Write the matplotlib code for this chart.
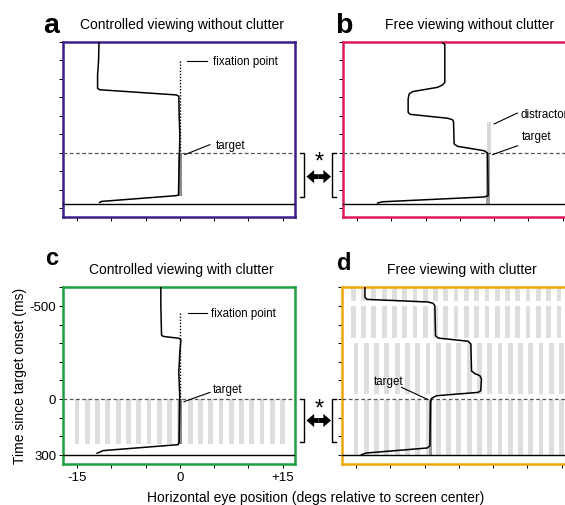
"""Eye traces in four viewing conditions (a-d), with clutter arrays."""
import matplotlib

matplotlib.use("Agg")
import matplotlib.pyplot as plt
from matplotlib.patches import FancyArrowPatch
from matplotlib.transforms import blended_transform_factory

plt.rcParams["font.family"] = ["Liberation Sans", "DejaVu Sans"]

W, H = 565, 506

# horizontal eye position (deg) vs time since target onset (ms)
trace_a_x = [-11.8, -11.85, -12.0, -12.0, -11.67, -0.49, -0.15, -0.1, 0.0,
             -0.05, -0.15, -0.2, -0.6, -11.4, -11.7]
trace_a_t = [-600, -500, -420, -347, -340, -312, -305, -200, -100,
             0, 150, 230, 233, 264, 270]

trace_b_x = [-2.53, -2.19, -2.19, -2.53, -3.26, -6.9, -7.4, -7.54, -7.54,
             -7.25, -1.8, -1.07, -0.92, -0.83, -0.34, 3.55, 4.04, 4.13,
             3.55, -11.3, -12.0]
trace_b_t = [-597, -584, -380, -366, -353, -330, -317, -290, -218,
             -207, -186, -178, -167, -47, -34, -10, 2, 233,
             240, 266, 273]

trace_c_x = [-2.77, -2.77, -2.67, -2.43, -0.15, 0.15, 0.0, -0.15, 0.0,
             -0.1, -0.24, -11.2, -12.06]
trace_c_t = [-600, -500, -343, -336, -326, -318, -250, -143, 0,
             233, 246, 278, 292]

trace_d_x = [-13.7, -13.7, -13.4, -4.5, -3.76, -3.5, -3.4, -3.0, 1.36,
             1.75, 1.85, 2.1, 2.33, 3.06, 3.3, 3.2, 2.8, -3.25, -3.98,
             -4.13, -4.23, -4.62, -13.5, -14.2]
trace_d_t = [-600, -546, -535, -521, -514, -501, -340, -327, -310,
             -295, -150, -143, -136, -125, -107, -44, -35, -17, -3,
             18, 252, 264, 291, 300]

# stimuli: (x deg, t start, t end)
fix_a = (0.0, -495, 0)
fix_c = (0.0, -462, 0)
target_a = (0.0, 0, 236)
target_b = (4.1, 0, 278)
distractor_b = (4.3, -165, 0)
target_c = (0.0, 0, 245)
target_d = (-4.1, 5, 300)

# clutter bar positions (deg)
clutter_c_x = [-15, -13.5, -12, -10.5, -9, -7.5, -6, -4.5, -3, -1.5, 0,
               1.5, 3, 4.5, 6, 7.5, 9, 10.5, 12, 13.5, 15]
clutter_c_t = (0, 245)
clutter_d_x_early = [-15.4, -13.9, -12.4, -10.9, -9.4, -7.9, -6.4, -4.9,
                     -3.4, -1.9, -0.4, 1.1, 2.6, 4.1, 5.6, 7.1, 8.6, 10.1,
                     11.6, 13.1, 14.6, 16.1]
clutter_d_x_late = [-15.0, -13.5, -12.0, -10.5, -9.0, -7.5, -6.0, -4.5,
                    -3.0, -1.5, 0.0, 1.5, 3.0, 4.5, 6.0, 7.5, 9.0, 10.5,
                    12.0, 13.5, 15.0, 16.5]
clutter_d_epochs = [(-600, -527, "early"), (-500, -325, "early"),
                    (-300, -27, "late"), (5, 300, "late")]

x_ticks = [-15, -10, -5, 0, 5, 10, 15]
x_ticklabels = ["-15", "", "", "0", "", "", "+15"]
y_ticks = [-600, -500, -400, -300, -200, -100, 0, 100, 200, 300]
y_ticklabels = ["", "-500", "", "", "", "", "0", "", "", "300"]

ANN_FS = 8.3

fig = plt.figure(figsize=(W / 100, H / 100), dpi=100)


def px_axes(left, top, w=231.7, h=176.0):
    return fig.add_axes([left / W, 1 - (top + h) / H, w / W, h / H])


def style(ax, color, bottom_line, labels=False):
    ax.set_xlim(-17, 16.8)
    ax.set_ylim(350, -600)
    ax.set_xticks(x_ticks)
    ax.set_yticks(y_ticks)
    if labels:
        ax.set_xticklabels(x_ticklabels, fontsize=9.5)
        ax.set_yticklabels(y_ticklabels, fontsize=9.5)
    else:
        ax.set_xticklabels([])
        ax.set_yticklabels([])
    ax.tick_params(direction="out", length=3, width=0.7, pad=2)
    for sp in ax.spines.values():
        sp.set_color(color)
        sp.set_linewidth(1.8)
    ax.axhline(0, color="#555555", lw=0.9, ls=(0, (3, 2)), zorder=3)
    ax.axhline(bottom_line, color="black", lw=1.0, zorder=3)


def stim(ax, s, color, width):
    x, t0, t1 = s
    ax.bar([x], [t1 - t0], bottom=[t0], width=width, color=color,
           linewidth=0, zorder=2)


def leader(ax, text, p0, p1, tpos):
    ax.plot([p0[0], p1[0]], [p0[1], p1[1]], color="black", lw=0.8,
            zorder=5, clip_on=False)
    ax.text(tpos[0], tpos[1], text, fontsize=ANN_FS, ha="left", va="center",
            zorder=5, clip_on=False)


ax_a = px_axes(63.3, 42.7, h=175.6)
ax_b = px_axes(343.3, 42.7, h=175.6)
ax_c = px_axes(63.3, 288.3, h=176.7)
ax_d = px_axes(342.3, 288.3, h=176.7)

# --- a
style(ax_a, "#3f1d8c", 278)
ax_a.plot([fix_a[0], fix_a[0]], [fix_a[1], fix_a[2]], color="black", lw=1,
          ls=(0, (1, 1.2)), zorder=3)
stim(ax_a, target_a, "#8c8c8c", 0.5)
ax_a.plot(trace_a_x, trace_a_t, color="black", lw=1.1, zorder=4)
leader(ax_a, "fixation point", (1.1, -495), (3.9, -495), (4.8, -495))
leader(ax_a, "target", (0.73, 11), (4.38, -43), (5.3, -40))

# --- b
style(ax_b, "#e0195c", 278)
stim(ax_b, distractor_b, "#d9d9d9", 0.6)
stim(ax_b, target_b, "#a0a0a0", 0.6)
ax_b.plot(trace_b_x, trace_b_t, color="black", lw=1.1, zorder=4)
leader(ax_b, "distractor", (5.0, -155), (8.4, -214), (8.9, -209))
leader(ax_b, "target", (4.77, 11), (8.42, -37), (9.05, -88))

# --- c
style(ax_c, "#1fa040", 300, labels=True)
ax_c.bar(clutter_c_x, clutter_c_t[1] - clutter_c_t[0], bottom=clutter_c_t[0],
         width=0.7, color="#dedede", linewidth=0, zorder=1)
stim(ax_c, target_c, "#8c8c8c", 0.5)
ax_c.plot([fix_c[0], fix_c[0]], [fix_c[1], fix_c[2]], color="black", lw=1,
          ls=(0, (1, 1.2)), zorder=3)
ax_c.plot(trace_c_x, trace_c_t, color="black", lw=1.1, zorder=4)
leader(ax_c, "fixation point", (1.2, -462), (3.9, -462), (4.6, -462))
leader(ax_c, "target", (0.6, 15), (4.4, -35), (4.75, -53))

# --- d
style(ax_d, "#f2a60d", 300)
for t0, t1, which in clutter_d_epochs:
    xs = clutter_d_x_early if which == "early" else clutter_d_x_late
    ax_d.bar(xs, t1 - t0, bottom=t0, width=0.7, color="#dedede",
             linewidth=0, zorder=1)
stim(ax_d, target_d, "#9a9a9a", 0.5)
ax_d.plot(trace_d_x, trace_d_t, color="black", lw=1.1, zorder=4)
ax_d.plot([-8.36, -4.48], [-62, 4], color="black", lw=0.8, zorder=5)
ax_d.text(-12.45, -98, "target", fontsize=ANN_FS, ha="left", va="center",
          zorder=5)

# --- titles, panel letters, axis labels
for x, y, s in [(182.5, 25, "Controlled viewing without clutter"),
                (470, 25, "Free viewing without clutter"),
                (181.5, 270, "Controlled viewing with clutter"),
                (462, 270, "Free viewing with clutter")]:
    fig.text(x / W, 1 - y / H, s, fontsize=10, ha="center", va="center")

for x, y, s, fs in [(43, 33, "a", 20.5), (335, 33, "b", 20.5),
                    (45, 265, "c", 17), (337, 270, "d", 17)]:
    fig.text(x / W, 1 - y / H, s, fontsize=fs, fontweight="bold",
             ha="left", va="baseline")

fig.text(20 / W, 1 - 376 / H, "Time since target onset (ms)", fontsize=10,
         rotation=90, ha="center", va="center")
fig.text(147 / W, 1 - 498 / H,
         "Horizontal eye position (degs relative to screen center)",
         fontsize=10, ha="left", va="center")

# --- comparison brackets between panels
for ax, t_end, t_arrow, t_star in [(ax_a, 240, 130, 50), (ax_c, 230, 116, 52)]:
    tr = blended_transform_factory(fig.transFigure, ax.transData)
    xr, xl = 304 / W, 332 / W
    d = 4 / W
    ax.plot([xr - d, xr, xr, xr - d], [0, 0, t_end, t_end], color="black",
            lw=1.0, transform=tr, clip_on=False)
    ax.plot([xl + d, xl, xl, xl + d], [0, 0, t_end, t_end], color="black",
            lw=1.0, transform=tr, clip_on=False)
    xm = 318.7 / W
    for x_tip in (306.5 / W, 331 / W):
        arr = FancyArrowPatch(
            (xm, t_arrow), (x_tip, t_arrow), transform=tr,
            arrowstyle="simple,head_length=0.55,head_width=0.95,tail_width=0.35",
            mutation_scale=10, lw=0, color="black", shrinkA=0, shrinkB=0)
        fig.add_artist(arr)
    ax.text(319 / W, t_star, "*", transform=tr, fontsize=17, ha="center",
            va="center", clip_on=False)

fig.savefig("out.png", dpi=100)
